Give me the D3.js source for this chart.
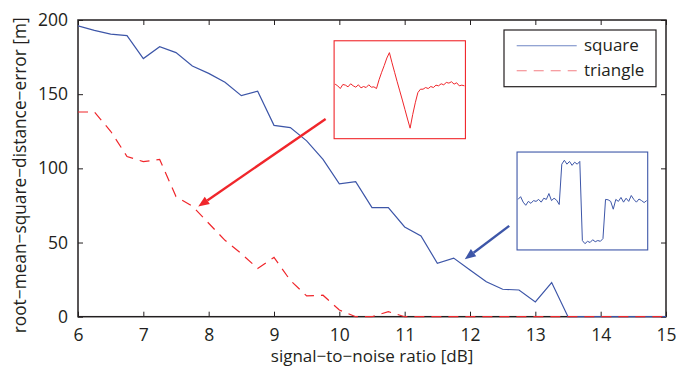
<!DOCTYPE html>
<html>
<head>
<meta charset="utf-8">
<script src="https://cdn.jsdelivr.net/npm/d3@7"></script>
<style>
  html, body { margin: 0; padding: 0; background: #fff; }
  svg { display: block; }
  text { font-family: "Open Sans", "Noto Sans", sans-serif; fill: #231f20; }
</style>
</head>
<body>
<svg id="chart" width="676" height="371"></svg>
<script>
// SNR sweep in dB
const snr = [6, 6.25, 6.5, 6.75, 7, 7.25, 7.5, 7.75, 8, 8.25, 8.5, 8.75, 9, 9.25, 9.5, 9.75,
  10, 10.25, 10.5, 10.75, 11, 11.25, 11.5, 11.75, 12, 12.25, 12.5, 12.75, 13, 13.25, 13.5, 13.75,
  14, 14.25, 14.5, 14.75, 15];

// RMS distance error [m] for each pulse shape
const squareErr = [196, 193, 190.5, 189.5, 174, 182, 178, 169, 164, 158, 149, 152, 129, 127.5,
  118.5, 106, 89.5, 91, 73.5, 73.5, 60.5, 54.5, 36, 39.5, 31.5, 23.5, 18.5, 18, 10, 23, 0, 0,
  0, 0, 0, 0, 0];
const triangleErr = [138, 138, 125, 108, 104.5, 106, 81, 74.5, 63, 51.5, 42.5, 32.5, 40, 24.5,
  14, 14.5, 4.5, 0, 0, 3.4, 0, 0, 0, 0, 0, 0, 0, 0, 0, 0, 0, 0, 0, 0, 0, 0, 0];

const xTicks = [6, 7, 8, 9, 10, 11, 12, 13, 14, 15];
const yTicks = [0, 50, 100, 150, 200];
const seriesNames = ["square", "triangle"];

// example received waveforms (normalised amplitude, every 2nd sample)
const triangleWave = [0.05, 0.0, -0.08, 0.04, 0.02, -0.03, 0.06, 0.0, -0.04, 0.03, -0.06,
  -0.02, -0.05, 0.03, -0.04, -0.03, -0.08, 0.18, 0.4, 0.6, 0.82, 0.98, 0.68, 0.4, 0.12, -0.15,
  -0.42, -0.7, -0.98, -1.25, -0.85, -0.5, -0.2, -0.1, -0.1, -0.05, -0.08, -0.02, -0.05, 0.02,
  0.0, 0.06, 0.03, 0.1, 0.08, 0.12, 0.05, 0.09, 0.0, 0.02, 0.0];
const squareWave = [0.05, 0.12, -0.02, -0.1, 0.0, -0.05, 0.02, 0.0, 0.05, -0.02, 0.08, 0.05,
  0.2, 0.02, 0.08, 0.03, -0.08, 0.95, 1.05, 0.95, 1.02, 0.92, 1.0, 0.95, 1.02, -1.0, -1.08,
  -1.02, -1.05, -0.98, -1.03, -1.0, -1.02, -0.95, 0.05, 0.04, 0.0, -0.2, 0.05, 0.0, 0.1, -0.02,
  0.08, 0.0, 0.15, 0.05, -0.02, 0.06, 0.02, -0.03, 0.02];

// inset placement and annotation arrows, in data units [snr, error]
const insetTriangleBox = [[9.92, 186], [11.93, 120]];
const insetSquareBox = [[12.72, 111], [14.72, 45]];
const arrowTriangle = [[9.79, 133.3], [7.84, 74.2]];
const arrowSquare = [[12.6, 61.2], [11.92, 38.7]];

const blue = "#3d56a8";
const red = "#f0262b";

const svg = d3.select("#chart");
const margin = { left: 78, right: 10, top: 20, bottom: 54.3 };
const W = 676, H = 371;

const x = d3.scaleLinear().domain([6, 15]).range([margin.left, W - margin.right]);
const y = d3.scaleLinear().domain([0, 200]).range([H - margin.bottom, margin.top]);

const axisColor = "#231f20";
const tickLen = 5;

// plot frame
svg.append("rect")
  .attr("x", x(6)).attr("y", y(200))
  .attr("width", x(15) - x(6)).attr("height", y(0) - y(200))
  .attr("fill", "none").attr("stroke", axisColor).attr("stroke-width", 1.5);

function styleAxis(g) {
  g.select(".domain").remove();
  g.selectAll(".tick line").attr("stroke", axisColor).attr("stroke-width", 1);
  g.selectAll(".tick text").style("font-size", "17.5px").attr("fill", axisColor);
}

// bottom axis (ticks point inward)
svg.append("g")
  .attr("transform", `translate(0,${y(0)})`)
  .call(d3.axisBottom(x).tickValues(xTicks).tickFormat(d3.format("d"))
    .tickSizeInner(-tickLen).tickSizeOuter(0).tickPadding(12))
  .call(styleAxis);
// top ticks
svg.append("g")
  .attr("transform", `translate(0,${y(200)})`)
  .call(d3.axisTop(x).tickValues(xTicks).tickFormat("").tickSizeInner(-tickLen).tickSizeOuter(0))
  .call(styleAxis);
// left axis
svg.append("g")
  .attr("transform", `translate(${x(6)},0)`)
  .call(d3.axisLeft(y).tickValues(yTicks).tickFormat(d3.format("d"))
    .tickSizeInner(-tickLen).tickSizeOuter(0).tickPadding(10))
  .call(styleAxis);
// right ticks
svg.append("g")
  .attr("transform", `translate(${x(15)},0)`)
  .call(d3.axisRight(y).tickValues(yTicks).tickFormat("").tickSizeInner(-tickLen).tickSizeOuter(0))
  .call(styleAxis);

// axis titles
svg.append("text")
  .attr("x", (x(6) + x(15)) / 2).attr("y", 362)
  .attr("text-anchor", "middle").style("font-size", "17px")
  .text("signal\u2212to\u2212noise ratio [dB]");
svg.append("text")
  .attr("transform", `translate(25.5,${(y(0) + y(200)) / 2 + 7}) rotate(-90)`)
  .attr("text-anchor", "middle").style("font-size", "17.3px")
  .text("root\u2212mean\u2212square\u2212distance\u2212error [m]");

// clip curves to the plot area
svg.append("clipPath").attr("id", "plotClip")
  .append("rect")
  .attr("x", x(6)).attr("y", y(200) - 2)
  .attr("width", x(15) - x(6)).attr("height", y(0) - y(200) + 4);

const line = d3.line().x((d, i) => x(snr[i])).y(d => y(d));

const plot = svg.append("g").attr("clip-path", "url(#plotClip)");
plot.append("path").datum(squareErr)
  .attr("d", line).attr("fill", "none")
  .attr("stroke", blue).attr("stroke-width", 1.2);
plot.append("path").datum(triangleErr)
  .attr("d", line).attr("fill", "none")
  .attr("stroke", red).attr("stroke-width", 1.2)
  .attr("stroke-dasharray", "10,7");

// inset waveforms
function inset(box, wave, color, yDomain) {
  const x0 = x(box[0][0]), x1 = x(box[1][0]);
  const y0 = y(box[0][1]), y1 = y(box[1][1]);
  const g = svg.append("g");
  g.append("rect").attr("x", x0).attr("y", y0)
    .attr("width", x1 - x0).attr("height", y1 - y0)
    .attr("fill", "#fff").attr("stroke", color).attr("stroke-width", 1.1);
  const sx = d3.scaleLinear().domain([0, wave.length - 1]).range([x0 + 1, x1 - 1]);
  const sy = d3.scaleLinear().domain(yDomain).range([y1, y0]);
  g.append("path").datum(wave)
    .attr("d", d3.line().x((d, i) => sx(i)).y(d => sy(d)))
    .attr("fill", "none").attr("stroke", color).attr("stroke-width", 1);
}
inset(insetTriangleBox, triangleWave, red, [-1.56, 1.33]);
inset(insetSquareBox, squareWave, blue, [-1.24, 1.26]);

// arrows
function arrow(pts, color) {
  const [a, b] = pts;
  const ax = x(a[0]), ay = y(a[1]), bx = x(b[0]), by = y(b[1]);
  const ang = Math.atan2(by - ay, bx - ax);
  const headL = 11, headW = 4.5;
  const hx = bx - headL * Math.cos(ang), hy = by - headL * Math.sin(ang);
  svg.append("line").attr("x1", ax).attr("y1", ay).attr("x2", hx).attr("y2", hy)
    .attr("stroke", color).attr("stroke-width", 2.4);
  const px = -Math.sin(ang) * headW, py = Math.cos(ang) * headW;
  svg.append("path")
    .attr("d", `M${bx},${by}L${hx + px},${hy + py}L${hx - px},${hy - py}Z`)
    .attr("fill", color);
}
arrow(arrowTriangle, red);
arrow(arrowSquare, blue);

// legend
const lg = svg.append("g");
lg.append("rect").attr("x", 504).attr("y", 30).attr("width", 152).attr("height", 56.7)
  .attr("fill", "#fff").attr("stroke", axisColor).attr("stroke-width", 1.2);
const legendColors = ["#6f86c4", "#f47f84"];
seriesNames.forEach((name, i) => {
  const ly = 45.7 + i * 25;
  lg.append("line").attr("x1", 516.7).attr("x2", 576.7).attr("y1", ly).attr("y2", ly)
    .attr("stroke", legendColors[i]).attr("stroke-width", 1.1)
    .attr("stroke-dasharray", i === 1 ? "10,7" : null);
  lg.append("text").attr("x", 584).attr("y", ly + 5.5)
    .style("font-size", "17px").text(name);
});
</script>
</body>
</html>
